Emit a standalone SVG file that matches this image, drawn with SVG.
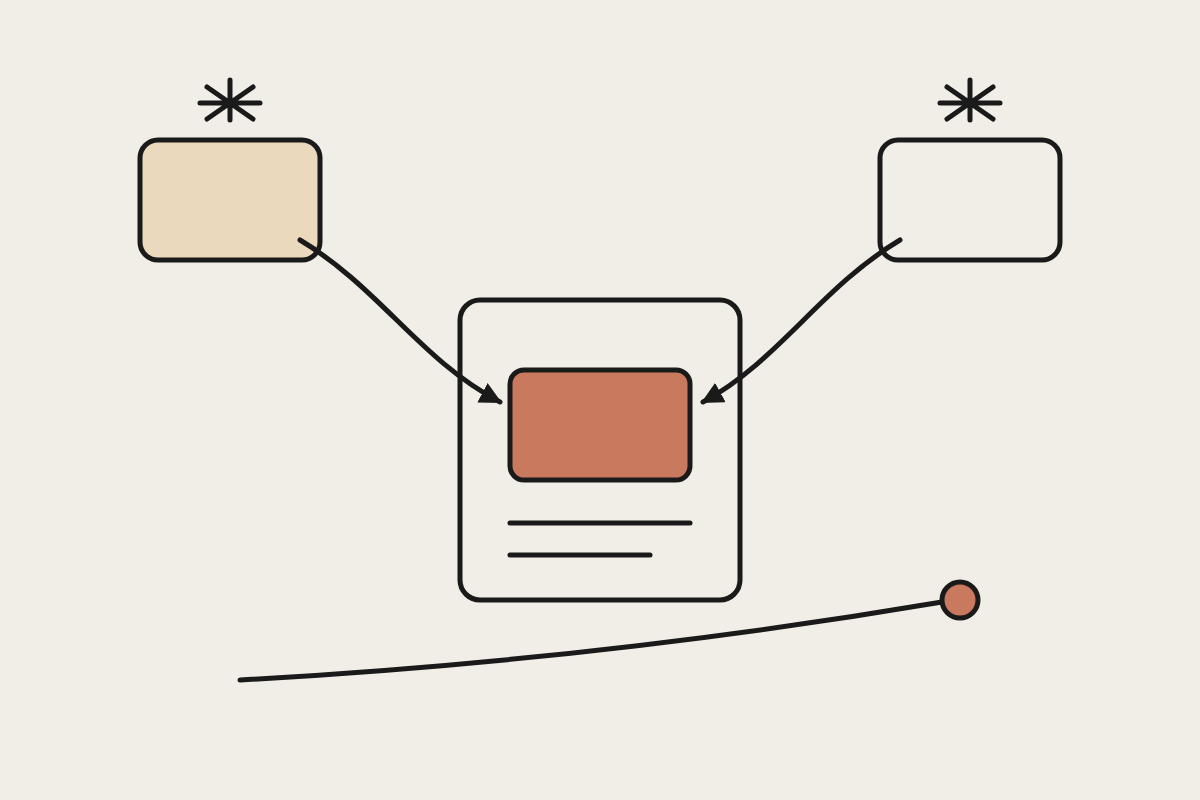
<svg xmlns="http://www.w3.org/2000/svg" width="1200" height="800" viewBox="0 0 1200 800">
<defs>
<style>
.s{fill:none;stroke:#1a1a1a;stroke-width:5;stroke-linecap:round;stroke-linejoin:round}
.b{stroke:#1a1a1a;stroke-width:5}
</style>
<marker id="ah" viewBox="0 0 10 10" refX="9" refY="5" markerWidth="4.4" markerHeight="4.4" orient="auto" markerUnits="strokeWidth">
<path d="M0,0 L10,5 L0,10 Z" fill="#1a1a1a"/>
</marker>
</defs>
<rect width="1200" height="800" fill="#F0EEE7"/>
<g id="node-left">
<rect class="b" x="140" y="140" width="180" height="120" rx="18" fill="#EAD9BC"/>
<path class="s" d="M200,103 H260 M230,80 V120 M207,87 L253,119 M207,119 L253,87"/>
</g>
<g id="node-right">
<rect class="b" x="880" y="140" width="180" height="120" rx="18" fill="none"/>
<path class="s" d="M940,103 H1000 M970,80 V120 M947,87 L993,119 M947,119 L993,87"/>
</g>
<g id="node-center">
<rect class="b" x="460" y="300" width="280" height="300" rx="20" fill="none"/>
<rect class="b" x="510" y="370" width="180" height="110" rx="14" fill="#C97A5E"/>
<path class="s" d="M510,523 H690 M510,555 H650"/>
</g>
<g id="connectors">
<path class="s" d="M300,240 C380,288 420,360 500,402" marker-end="url(#ah)"/>
<path class="s" d="M900,240 C820,288 780,360 703,402" marker-end="url(#ah)"/>
<path class="s" d="M240,680 Q600,660 942,602"/>
</g>
<g id="node-dot">
<circle cx="960" cy="600" r="18" fill="#C97A5E" stroke="#1a1a1a" stroke-width="5"/>
</g>
</svg>
